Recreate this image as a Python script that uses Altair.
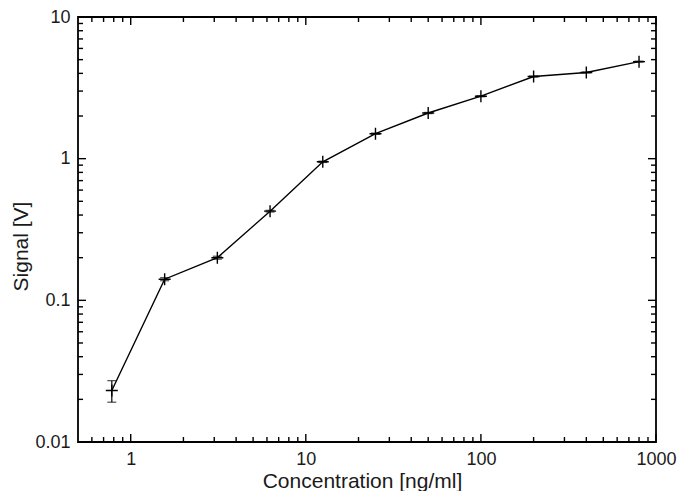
import altair as alt
import pandas as pd

# data
conc = [0.78, 1.5625, 3.125, 6.25, 12.5, 25, 50, 100, 200, 400, 800]
signal = [0.0231, 0.141, 0.200, 0.426, 0.95, 1.50, 2.10, 2.76, 3.80, 4.06, 4.84]
err = [0.0040, 0.0035, 0.0048, 0.006, 0.010, 0.015, 0.02, 0.025, 0.03, 0.03, 0.04]

x_major = [1, 10, 100, 1000]
x_minor = [0.6, 0.7, 0.8, 0.9] + [m * d for d in (1, 10, 100) for m in range(2, 10)]
y_major = [0.01, 0.1, 1, 10]
y_minor = [m * d for d in (0.01, 0.1, 1) for m in range(2, 10)]

W, H = 578, 425
FONT = "Liberation Sans"
TXT = "#1a1a1a"

df = pd.DataFrame({"conc": conc, "signal": signal, "err": err})
df["lo"] = df["signal"] - df["err"]
df["hi"] = df["signal"] + df["err"]

xs = alt.Scale(type="log", domain=[0.5, 1000], nice=False)
ys = alt.Scale(type="log", domain=[0.01, 10], nice=False)

x_axis = alt.Axis(values=x_major, format="~g", title="Concentration [ng/ml]",
                  grid=False, domain=False, ticks=False, labelFlush=False,
                  labelOverlap=False, labelPadding=8, labelFontSize=18,
                  titleFontSize=21, labelColor=TXT, titleColor=TXT,
                  labelFont=FONT, titleFont=FONT, titleFontWeight="normal",
                  titleX=284, titleY=45, titleBaseline="alphabetic")
y_axis = alt.Axis(values=y_major, format="~g", title="Signal [V]",
                  grid=False, domain=False, ticks=False, labelFlush=False,
                  labelOverlap=False, labelPadding=8, labelFontSize=18,
                  titleFontSize=21, labelColor=TXT, titleColor=TXT,
                  labelFont=FONT, titleFont=FONT, titleFontWeight="normal",
                  titleX=-51, titleY=229, titleBaseline="alphabetic")

base = alt.Chart(df)

line = base.mark_line(color="black", strokeWidth=1.4).encode(
    x=alt.X("conc:Q", scale=xs, axis=x_axis),
    y=alt.Y("signal:Q", scale=ys, axis=y_axis),
)

pts = base.mark_point(shape="M-1,0H1M0,-1V1", size=144, filled=False,
                      color="black", strokeWidth=1.4, opacity=1).encode(
    x=alt.X("conc:Q", scale=xs, axis=x_axis),
    y=alt.Y("signal:Q", scale=ys, axis=y_axis),
)

ebar = base.mark_rule(color="black", strokeWidth=1.2).encode(
    x=alt.X("conc:Q", scale=xs, axis=x_axis),
    y=alt.Y("lo:Q", scale=ys, axis=y_axis),
    y2="hi:Q",
)
cap_lo = base.mark_tick(color="black", thickness=1.2, size=9, orient="horizontal").encode(
    x=alt.X("conc:Q", scale=xs, axis=x_axis),
    y=alt.Y("lo:Q", scale=ys, axis=y_axis),
)
cap_hi = base.mark_tick(color="black", thickness=1.2, size=9, orient="horizontal").encode(
    x=alt.X("conc:Q", scale=xs, axis=x_axis),
    y=alt.Y("hi:Q", scale=ys, axis=y_axis),
)


def xticks(vals, length):
    d = alt.Chart(pd.DataFrame({"v": vals}))
    b = d.mark_rule(color="black", strokeWidth=1.4).encode(
        x=alt.X("v:Q", scale=xs, axis=x_axis),
        y=alt.value(H), y2=alt.value(H - length))
    t = d.mark_rule(color="black", strokeWidth=1.4).encode(
        x=alt.X("v:Q", scale=xs, axis=x_axis),
        y=alt.value(0), y2=alt.value(length))
    return [b, t]


def yticks(vals, length):
    d = alt.Chart(pd.DataFrame({"v": vals}))
    l = d.mark_rule(color="black", strokeWidth=1.4).encode(
        y=alt.Y("v:Q", scale=ys, axis=y_axis),
        x=alt.value(0), x2=alt.value(length))
    r = d.mark_rule(color="black", strokeWidth=1.4).encode(
        y=alt.Y("v:Q", scale=ys, axis=y_axis),
        x=alt.value(W), x2=alt.value(W - length))
    return [l, r]


tick_layers = xticks(x_major, 8) + xticks(x_minor, 5) + yticks(y_major, 8) + yticks(y_minor, 5)

chart = alt.layer(line, *tick_layers, ebar, cap_lo, cap_hi, pts).properties(
    width=W, height=H,
    autosize=alt.AutoSizeParams(type="none"),
    padding={"left": 70, "top": 9, "right": 21, "bottom": 49},
    background="white",
).configure_view(stroke="black", strokeWidth=1.8)

chart.save("out.html", embed_options={"renderer": "svg", "actions": False})
